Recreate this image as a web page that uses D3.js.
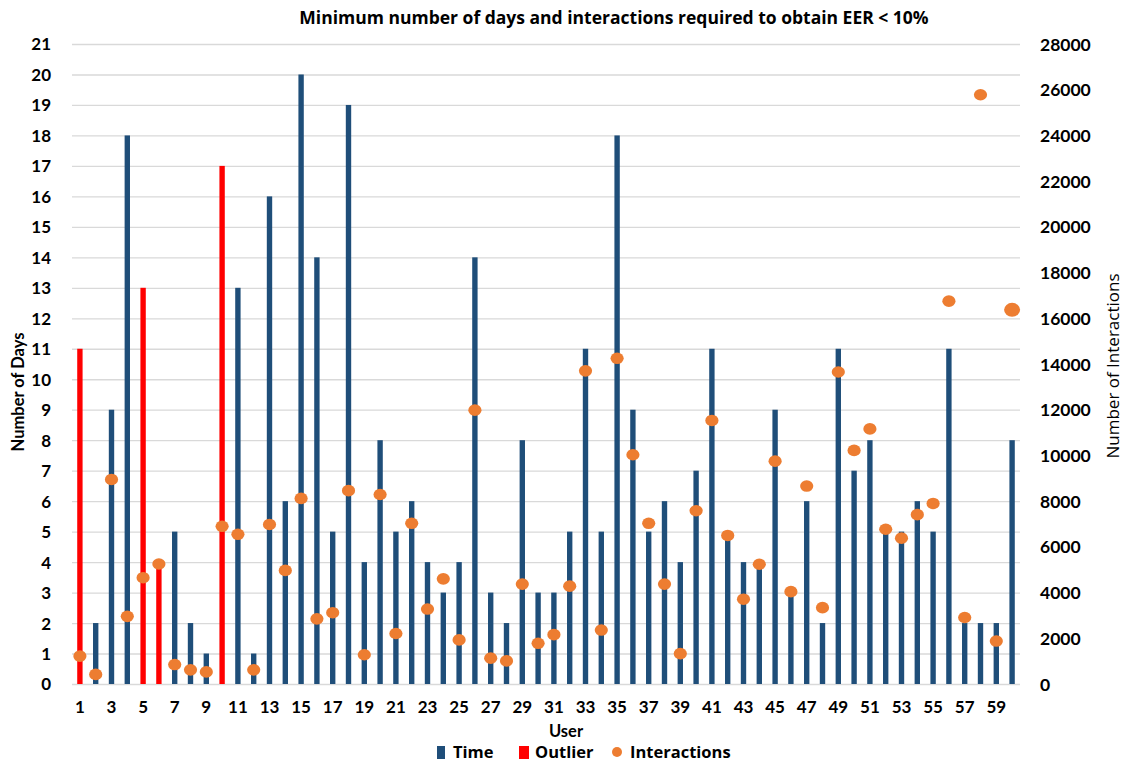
<!DOCTYPE html>
<html><head><meta charset="utf-8">
<script src="https://cdn.jsdelivr.net/npm/d3@7"></script>
<style>
html,body{margin:0;padding:0;background:#fff;}
svg{display:block;font-family:Lato,"Open Sans",sans-serif;}
</style></head>
<body><svg id="chart" width="1125" height="762"></svg>
<script>
const users = d3.range(1, 61);
const days = [11,2,9,18,13,4,5,2,1,17,13,1,16,6,20,14,5,19,4,8,5,6,4,3,4,14,3,2,8,3,3,5,11,5,18,9,5,6,4,7,11,5,4,4,9,3,6,2,11,7,8,5,5,6,5,11,2,2,2,8];
const outlierUsers = [1,5,6,10];
const interactions = [1220,420,8950,2960,4650,5250,850,620,530,6900,6550,620,6980,4970,8120,2850,3120,8460,1280,8290,2210,7030,3280,4600,1930,11980,1130,1010,4370,1780,2160,4280,13700,2360,14250,10030,7030,4370,1330,7580,11530,6500,3710,5240,9750,4040,8660,3340,13650,10220,11160,6770,6380,7410,7900,16750,2910,25780,1880,16370];
const dayTicks = d3.range(0, 22);
const interTicks = d3.range(0, 28001, 2000);
const xTickUsers = d3.range(1, 61, 2);
const titleText = "Minimum number of days and interactions required to obtain EER < 10%";
const legendItems = [{label:"Time", type:"rect", color:"#1f4e79"},{label:"Outlier", type:"rect", color:"#ff0000"},{label:"Interactions", type:"dot", color:"#ed7d31"}];

const svg = d3.select("#chart");
const L = 72, R = 1020, T = 44, B = 684;

const x = d3.scaleBand().domain(users).range([L, R]).paddingInner(0.66).paddingOuter(0.33);
const y = d3.scaleLinear().domain([0, 21]).range([B, T]);
const y2 = d3.scaleLinear().domain([0, 28000]).range([B, T]);

// gridlines
const grid = svg.append("g").attr("transform", `translate(${L},0)`)
  .call(d3.axisLeft(y).tickValues(dayTicks).tickSize(-(R - L)).tickFormat(""));
grid.select(".domain").remove();
grid.selectAll("line").attr("stroke", "#d9d9d9").attr("stroke-width", 1.3);

// left axis
const ax = svg.append("g").attr("transform", `translate(51,0)`)
  .call(d3.axisLeft(y).tickValues(dayTicks).tickSize(0).tickPadding(0).tickFormat(d3.format("d")));
ax.select(".domain").remove();
ax.selectAll("text").attr("font-size", 17).attr("font-weight", "bold").attr("fill", "#000")
  .attr("font-family", "Lato, sans-serif").attr("dy", "0.35em");

// right axis
const ax2 = svg.append("g").attr("transform", `translate(1040,0)`)
  .call(d3.axisRight(y2).tickValues(interTicks).tickSize(0).tickPadding(0).tickFormat(d3.format("d")));
ax2.select(".domain").remove();
ax2.selectAll("text").attr("font-size", 17.5).attr("font-weight", "bold").attr("fill", "#000")
  .attr("font-family", "Lato, sans-serif").attr("dy", "0.35em");

// x axis
const axx = svg.append("g").attr("transform", `translate(0,${B})`)
  .call(d3.axisBottom(x).tickValues(xTickUsers).tickSize(0).tickPadding(17));
axx.select(".domain").remove();
axx.selectAll("text").attr("font-size", 17).attr("font-weight", "bold").attr("fill", "#000")
  .attr("font-family", "Lato, sans-serif");

// bars
svg.append("g").selectAll("rect").data(users).join("rect")
  .attr("x", d => x(d))
  .attr("width", x.bandwidth())
  .attr("y", d => y(days[d - 1]))
  .attr("height", d => y(0) - y(days[d - 1]))
  .attr("fill", d => outlierUsers.includes(d) ? "#ff0000" : "#1f4e79");

// dots
svg.append("g").selectAll("ellipse").data(users).join("ellipse")
  .attr("cx", d => x(d) + x.bandwidth() / 2)
  .attr("cy", d => y2(interactions[d - 1]))
  .attr("rx", d => d === 60 ? 8 : 6.6)
  .attr("ry", d => d === 60 ? 7 : 5.8)
  .attr("fill", "#ed7d31");

// title
svg.append("text").attr("x", 614).attr("y", 24).attr("text-anchor", "middle")
  .attr("font-family", "'Open Sans', sans-serif")
  .attr("font-size", 17.5).attr("font-weight", "bold").text(titleText);

// axis titles
svg.append("text").attr("transform", "translate(24,392) rotate(-90)").attr("text-anchor", "middle")
  .attr("font-size", 16.5).attr("font-weight", "bold").text("Number of Days");
svg.append("text").attr("transform", "translate(1119,366) rotate(-90)").attr("text-anchor", "middle")
  .attr("font-family", "'Open Sans', sans-serif")
  .attr("font-size", 17).text("Number of  Interactions");
svg.append("text").attr("x", 566).attr("y", 737).attr("text-anchor", "middle")
  .attr("font-size", 16.5).attr("font-weight", "bold").text("User");

// legend
const lg = svg.append("g").attr("font-family", "'Open Sans', sans-serif");
const ly = 752;
const markerX = [437, 519, 612];
const textX = [453, 535, 630];
legendItems.forEach((it, i) => {
  if (it.type === "rect") {
    lg.append("rect").attr("x", markerX[i]).attr("y", ly - 6).attr("width", i === 0 ? 8 : 10).attr("height", 13).attr("fill", it.color);
  } else {
    lg.append("circle").attr("cx", markerX[i] + 5).attr("cy", ly).attr("r", 5).attr("fill", it.color);
  }
  lg.append("text").attr("x", textX[i]).attr("y", ly).attr("dy", "0.35em")
    .attr("font-size", 16.5).attr("font-weight", "bold").text(it.label);
});
</script></body></html>
